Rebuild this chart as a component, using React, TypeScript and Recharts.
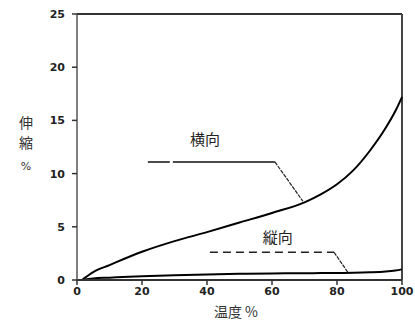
import React from 'react';
import { LineChart, Line, XAxis, YAxis, ReferenceLine, ReferenceDot } from 'recharts';

const temperature = [1.5, 5, 10, 20, 30, 40, 50, 60, 70, 75, 80, 85, 90, 95, 98, 100];
const yokoValues = [0, 0.75, 1.4, 2.65, 3.65, 4.5, 5.4, 6.3, 7.3, 8.05, 9.0, 10.3, 12.1, 14.3, 15.9, 17.2];
const tateValues = [0, 0.15, 0.22, 0.35, 0.45, 0.52, 0.58, 0.62, 0.64, 0.65, 0.66, 0.68, 0.72, 0.8, 0.9, 1.0];

const xTicks = [0, 20, 40, 60, 80, 100];
const yTicks = [0, 5, 10, 15, 20, 25];

const yokoLabel = { text: '横向', x: 39.4, y: 13.2 };
const tateLabel = { text: '縦向', x: 61.8, y: 4.0 };
const yokoLeader = [
  { x: 21.8, y: 11.1 },
  { x: 60.9, y: 11.1 },
  { x: 69.5, y: 7.4 },
];
const tateLeader = [
  { x: 40.9, y: 2.6 },
  { x: 79.1, y: 2.6 },
  { x: 83.4, y: 0.7 },
];

const data = temperature.map((t, i) => ({ t, yoko: yokoValues[i], tate: tateValues[i] }));

const tickStyle = { fontFamily: 'DejaVu Sans', fontSize: 11, fontWeight: 'bold', fill: '#222' };
const jpFont = '"Noto Sans CJK JP"';

const YLabel = () => (
  <text x={26} textAnchor="middle" fontFamily={jpFont} fontSize={14} fill="#333">
    <tspan x={26} y={128}>伸</tspan>
    <tspan x={26} y={148}>縮</tspan>
    <tspan x={26} y={170} fontSize={11} fontFamily="DejaVu Sans">%</tspan>
  </text>
);

const XLabel = () => (
  <text x={236} y={317} textAnchor="middle" fontFamily={jpFont} fontSize={14} fill="#333">
    温度 %
  </text>
);

export default function App() {
  return (
    <div style={{ position: 'absolute', left: 0, top: 0, width: 415, height: 327, background: '#fff' }}>
      <LineChart
        width={415}
        height={327}
        data={data}
        margin={{ top: 14, right: 13, bottom: 0, left: 0 }}
      >
        <XAxis
          dataKey="t"
          type="number"
          domain={[0, 100]}
          ticks={xTicks}
          tick={tickStyle}
          tickSize={5}
          tickMargin={2}
          height={47}
          stroke="#333"
          strokeWidth={2}
          tickLine={{ stroke: '#333', strokeWidth: 1.5 }}
          label={{ content: () => <XLabel /> }}
        />
        <YAxis
          type="number"
          domain={[0, 25]}
          ticks={yTicks}
          tick={tickStyle}
          tickSize={5}
          tickMargin={7}
          width={77}
          stroke="#555"
          strokeWidth={1.5}
          tickLine={{ stroke: '#333', strokeWidth: 1.5 }}
          label={{ content: () => <YLabel /> }}
        />
        <ReferenceLine y={25} stroke="#333" strokeWidth={2} />
        <ReferenceLine x={100} stroke="#444" strokeWidth={2} />
        <Line
          type="monotone"
          dataKey="yoko"
          stroke="#000"
          strokeWidth={2}
          dot={false}
          isAnimationActive={false}
        />
        <Line
          type="monotone"
          dataKey="tate"
          stroke="#000"
          strokeWidth={2}
          dot={false}
          isAnimationActive={false}
        />
        <ReferenceLine
          segment={[yokoLeader[0], yokoLeader[1]]}
          stroke="#111"
          strokeWidth={1.5}
          strokeDasharray="22 3 300 0"
        />
        <ReferenceLine
          segment={[yokoLeader[1], yokoLeader[2]]}
          stroke="#222"
          strokeWidth={1.2}
          strokeDasharray="4 1"
        />
        <ReferenceLine
          segment={[tateLeader[0], tateLeader[1]]}
          stroke="#222"
          strokeWidth={1.5}
          strokeDasharray="8 5"
        />
        <ReferenceLine
          segment={[tateLeader[1], tateLeader[2]]}
          stroke="#222"
          strokeWidth={1.2}
          strokeDasharray="4 1"
        />
        <ReferenceDot
          x={yokoLabel.x}
          y={yokoLabel.y}
          r={0}
          fill="none"
          stroke="none"
          label={{ value: yokoLabel.text, position: 'center', fontFamily: jpFont, fontSize: 15, fill: '#222' }}
        />
        <ReferenceDot
          x={tateLabel.x}
          y={tateLabel.y}
          r={0}
          fill="none"
          stroke="none"
          label={{ value: tateLabel.text, position: 'center', fontFamily: jpFont, fontSize: 15, fill: '#222' }}
        />
      </LineChart>
    </div>
  );
}
